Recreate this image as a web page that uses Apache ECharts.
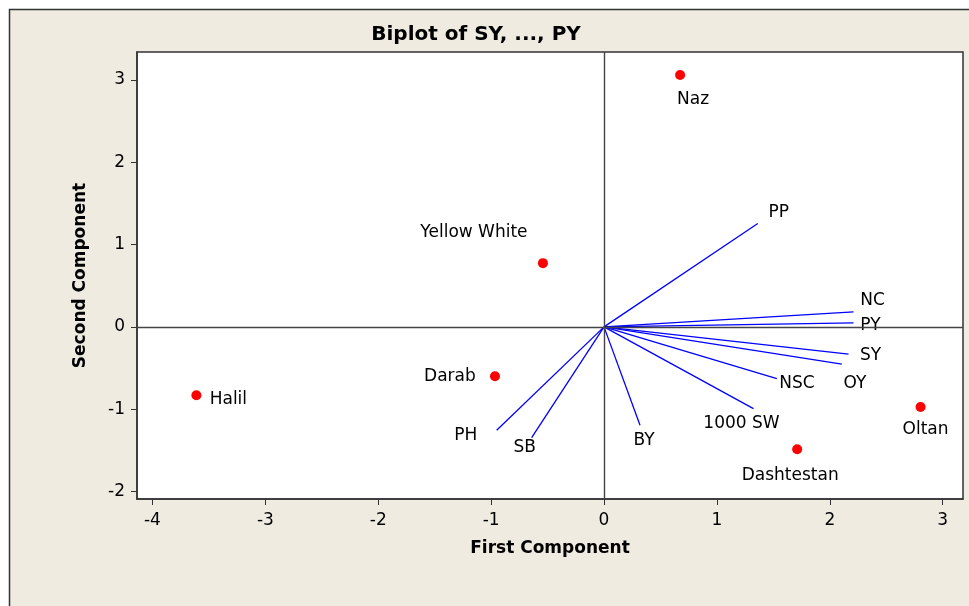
<!DOCTYPE html>
<html>
<head>
<meta charset="utf-8">
<title>Biplot of SY, ..., PY</title>
<script src="https://cdn.jsdelivr.net/npm/echarts@6/dist/echarts.min.js"></script>
<style>
  html, body { margin: 0; padding: 0; background: #fff; }
  #biplot { width: 969px; height: 606px; }
</style>
</head>
<body>
<div id="biplot"></div>
<script>
// observations (scores)
var obsNames = ['Naz', 'Yellow White', 'Darab', 'Halil', 'Dashtestan', 'Oltan']
var obsX = [0.674, -0.541, -0.966, -3.611, 1.711, 2.804]
var obsY = [3.058, 0.774, -0.600, -0.830, -1.486, -0.972]

// variables (loading vectors)
var varNames = ['PP', 'NC', 'PY', 'SY', 'OY', 'NSC', '1000 SW', 'BY', 'PH', 'SB']
var varX = [1.362, 2.210, 2.210, 2.166, 2.107, 1.531, 1.324, 0.319, -0.951, -0.641]
var varY = [1.256, 0.182, 0.049, -0.332, -0.453, -0.627, -0.992, -1.194, -1.255, -1.344]

var xTicks = [-4, -3, -2, -1, 0, 1, 2, 3]
var yTicks = [-2, -1, 0, 1, 2, 3]

// label placement, px from the mark
var obsLabelOffset = {
  'Naz': [13, 25],
  'Yellow White': [-69, -31],
  'Darab': [-45, 0],
  'Halil': [32, 4],
  'Dashtestan': [-7, 26],
  'Oltan': [5, 23]
}
var varLabelOffset = {
  'PP': [21, -11],
  'NC': [19, -11],
  'PY': [17, 3],
  'SY': [22, 1],
  'OY': [13, 19],
  'NSC': [20, 5],
  '1000 SW': [-12, 15],
  'BY': [4, 15],
  'PH': [-31, 5],
  'SB': [-7, 10]
}

var font = 'DejaVu Sans'
var ink = '#000'

var chart = echarts.init(document.getElementById('biplot'))

var obsData = obsNames.map(function (n, i) {
  return {
    name: n,
    value: [obsX[i], obsY[i]],
    label: { offset: obsLabelOffset[n] }
  }
})
var vecData = varNames.map(function (n, i) {
  return { coords: [[0, 0], [varX[i], varY[i]]] }
})
var vecEnds = varNames.map(function (n, i) {
  return {
    name: n,
    value: [varX[i], varY[i]],
    label: { offset: varLabelOffset[n] }
  }
})

var axisCommon = {
  type: 'value',
  axisLine: { show: true, onZero: false, lineStyle: { color: '#333', width: 1.5 } },
  axisTick: { show: true, length: 6, lineStyle: { color: '#333', width: 1 } },
  splitLine: { show: false },
  axisLabel: { color: ink, fontFamily: font, fontSize: 17 },
  nameTextStyle: { color: ink, fontFamily: font, fontSize: 17, fontWeight: 'bold' },
  nameLocation: 'middle'
}

var labelStyle = {
  show: true,
  position: 'inside',
  formatter: '{b}',
  color: ink,
  fontFamily: font,
  fontSize: 17
}

chart.setOption({
  backgroundColor: '#fff',
  animation: false,
  graphic: [
    {
      type: 'rect',
      z: -10,
      silent: true,
      shape: { x: 9.5, y: 9.5, width: 1000, height: 700 },
      style: { fill: '#efebe1', stroke: '#333', lineWidth: 1.5 }
    }
  ],
  title: {
    text: 'Biplot of SY, ..., PY',
    left: 471,
    top: 20,
    textAlign: 'center',
    textStyle: { color: ink, fontFamily: font, fontSize: 20, fontWeight: 'bold' }
  },
  grid: {
    left: 137,
    top: 52,
    right: 6,
    bottom: 107,
    show: true,
    backgroundColor: '#fff',
    borderColor: '#333',
    borderWidth: 1.5
  },
  xAxis: Object.assign({}, axisCommon, {
    min: -4.137,
    max: 3.18,
    name: 'First Component',
    nameGap: 41,
    axisTick: Object.assign({}, axisCommon.axisTick, { customValues: xTicks }),
    axisLabel: Object.assign({}, axisCommon.axisLabel, { customValues: xTicks, margin: 13 })
  }),
  yAxis: Object.assign({}, axisCommon, {
    min: -2.09,
    max: 3.338,
    name: 'Second Component',
    nameGap: 48,
    axisTick: Object.assign({}, axisCommon.axisTick, { customValues: yTicks }),
    axisLabel: Object.assign({}, axisCommon.axisLabel, { customValues: yTicks, margin: 12 })
  }),
  series: [
    {
      type: 'lines',
      coordinateSystem: 'cartesian2d',
      silent: true,
      z: 3,
      lineStyle: { color: '#0000ff', width: 1.3, opacity: 1 },
      data: vecData,
      markLine: {
        silent: true,
        symbol: 'none',
        label: { show: false },
        lineStyle: { color: '#444', width: 1.4, type: 'solid', opacity: 1 },
        data: [{ xAxis: 0 }, { yAxis: 0 }]
      }
    },
    {
      type: 'scatter',
      symbolSize: 0,
      silent: true,
      z: 4,
      itemStyle: { opacity: 1 },
      data: vecEnds,
      label: labelStyle
    },
    {
      type: 'scatter',
      symbol: 'circle',
      symbolSize: 10,
      z: 5,
      itemStyle: { color: '#ff0000', opacity: 1 },
      data: obsData,
      label: labelStyle
    }
  ]
})
</script>
</body>
</html>
